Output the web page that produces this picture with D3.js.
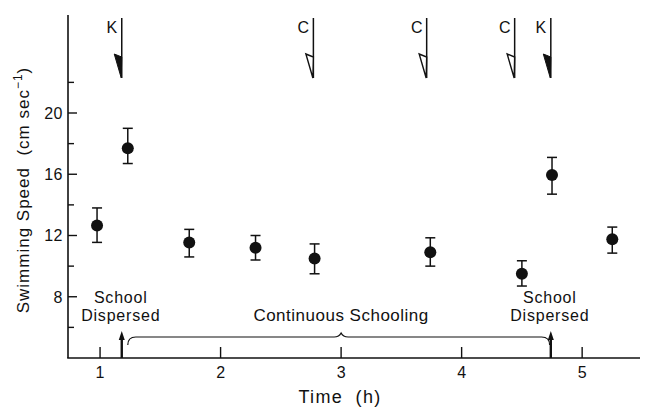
<!DOCTYPE html>
<html><head><meta charset="utf-8">
<script src="https://cdn.jsdelivr.net/npm/d3@7/dist/d3.min.js"></script>
<style>
html,body{margin:0;padding:0;background:#fff;}
text{font-family:"Liberation Sans",Arial,sans-serif;fill:#111;}
</style></head>
<body><svg id="c" width="647" height="407"></svg>
<script>
// ---- data ----
const times  = [0.975, 1.23, 1.74, 2.29, 2.78, 3.74, 4.50, 4.75, 5.25];
const speeds = [12.65, 17.7, 11.55, 11.2, 10.5, 10.9, 9.5, 15.95, 11.75];
const errHi  = [13.8, 19.0, 12.4, 12.0, 11.45, 11.85, 10.35, 17.1, 12.55];
const errLo  = [11.55, 16.7, 10.6, 10.4, 9.5, 10.0, 8.7, 14.7, 10.85];
const eventTimes  = [1.18, 2.77, 3.71, 4.44, 4.74];
const eventLabels = ["K", "C", "C", "C", "K"];
const dispersedTimes = [1.18, 4.74];
const xTicks = [1, 2, 3, 4, 5];
const yMajorTicks = [8, 12, 16, 20];
const yMinorTicks = [6, 10, 14, 18, 22];
const schoolingSpan = [1.23, 4.73];

(function () {
const svg = d3.select("#c");
const x = d3.scaleLinear().domain([0.734, 5.48]).range([68, 640]);
const y = d3.scaleLinear().domain([4, 26.4]).range([358, 15]);
const ink = "#111";

// axes lines
svg.append("line").attr("x1", 68).attr("x2", 68).attr("y1", y(26.4)).attr("y2", y(4))
  .attr("stroke", ink).attr("stroke-width", 1.6);
svg.append("line").attr("x1", 67.2).attr("x2", 640).attr("y1", y(4)).attr("y2", y(4))
  .attr("stroke", ink).attr("stroke-width", 1.6);

// y ticks
svg.selectAll(".ymaj").data(yMajorTicks).enter().append("line")
  .attr("x1", 68).attr("x2", 77).attr("y1", d => y(d)).attr("y2", d => y(d))
  .attr("stroke", ink).attr("stroke-width", 1.4);
svg.selectAll(".ymin").data(yMinorTicks).enter().append("line")
  .attr("x1", 68).attr("x2", 74).attr("y1", d => y(d)).attr("y2", d => y(d))
  .attr("stroke", ink).attr("stroke-width", 1.4);
svg.selectAll(".ylab").data(yMajorTicks).enter().append("text")
  .attr("x", 63).attr("y", d => y(d)).attr("dy", "0.36em")
  .attr("text-anchor", "end").attr("font-size", 16).attr("letter-spacing", 0.5).text(d => d);

// x ticks
svg.selectAll(".xt").data(xTicks).enter().append("line")
  .attr("x1", d => x(d)).attr("x2", d => x(d)).attr("y1", y(4)).attr("y2", y(4) - 11)
  .attr("stroke", ink).attr("stroke-width", 1.4);
svg.selectAll(".xlab").data(xTicks).enter().append("text")
  .attr("x", d => x(d)).attr("y", 378).attr("text-anchor", "middle")
  .attr("font-size", 16).text(d => d);

// axis titles
svg.append("text").attr("x", 340).attr("y", 403).attr("text-anchor", "middle")
  .attr("font-size", 18).attr("letter-spacing", 1.3).style("white-space", "pre").text("Time  (h)");
const yl = svg.append("text").attr("transform", "translate(29,190) rotate(-90)")
  .attr("text-anchor", "middle").attr("font-size", 17).attr("letter-spacing", 1)
  .style("white-space", "pre");
yl.append("tspan").text("Swimming Speed  (cm sec");
yl.append("tspan").attr("dy", -7).attr("font-size", 12).text("−1");
yl.append("tspan").attr("dy", 7).text(")");

// error bars
const pts = times.map((t, i) => ({t, v: speeds[i], hi: errHi[i], lo: errLo[i]}));
const eb = svg.selectAll(".eb").data(pts).enter().append("g");
eb.append("line").attr("x1", d => x(d.t)).attr("x2", d => x(d.t))
  .attr("y1", d => y(d.hi)).attr("y2", d => y(d.lo)).attr("stroke", ink).attr("stroke-width", 1.5);
eb.append("line").attr("x1", d => x(d.t) - 5).attr("x2", d => x(d.t) + 5)
  .attr("y1", d => y(d.hi)).attr("y2", d => y(d.hi)).attr("stroke", ink).attr("stroke-width", 1.5);
eb.append("line").attr("x1", d => x(d.t) - 5).attr("x2", d => x(d.t) + 5)
  .attr("y1", d => y(d.lo)).attr("y2", d => y(d.lo)).attr("stroke", ink).attr("stroke-width", 1.5);
eb.append("circle").attr("cx", d => x(d.t)).attr("cy", d => y(d.v)).attr("r", 6).attr("fill", ink);

// event arrows at top
const ev = eventTimes.map((t, i) => ({t, lab: eventLabels[i]}));
const aTop = 18, aBot = 78;
const eg = svg.selectAll(".ev").data(ev).enter().append("g");
eg.append("line").attr("x1", d => x(d.t)).attr("x2", d => x(d.t))
  .attr("y1", aTop).attr("y2", aBot).attr("stroke", ink).attr("stroke-width", 1.5);
eg.append("path")
  .attr("d", d => { const cx = x(d.t); return `M${cx - 7.5},${aBot - 24} L${cx},${aBot - 21} L${cx - 0.5},${aBot} Z`; })
  .attr("fill", d => d.lab === "K" ? ink : "#fff")
  .attr("stroke", ink).attr("stroke-width", d => d.lab === "K" ? 1 : 1.4)
  .attr("stroke-linejoin", "miter");
eg.append("text").attr("x", d => x(d.t) - 10).attr("y", 33).attr("text-anchor", "middle")
  .attr("font-size", 16).text(d => d.lab);

// dispersed arrows at bottom
const dg = svg.selectAll(".dg").data(dispersedTimes).enter().append("g");
dg.append("line").attr("x1", d => x(d)).attr("x2", d => x(d))
  .attr("y1", y(4)).attr("y2", y(4) - 20).attr("stroke", ink).attr("stroke-width", 2.4);
dg.append("path").attr("d", d => { const cx = x(d), t = y(4) - 27; return `M${cx},${t} L${cx + 3},${t + 9} L${cx - 3},${t + 9} Z`; })
  .attr("fill", ink);
dg.each(function(d) {
  const t = d3.select(this).append("text").attr("text-anchor", "middle")
    .attr("font-size", 16).attr("letter-spacing", 0.8);
  t.append("tspan").attr("x", x(d) - 1).attr("y", 302.5).text("School");
  t.append("tspan").attr("x", x(d) - 1).attr("y", 321).text("Dispersed");
});

// brace
const bl = x(schoolingSpan[0]), br = x(schoolingSpan[1]), bm = x(3);
const by = 337, bEnd = 345;
svg.append("path")
  .attr("d", `M${bl},${bEnd} Q${bl},${by} ${bl + 8},${by} L${bm - 7},${by} Q${bm - 2},${by} ${bm},${by - 4} Q${bm + 2},${by} ${bm + 7},${by} L${br - 8},${by} Q${br},${by} ${br},${bEnd}`)
  .attr("fill", "none").attr("stroke", ink).attr("stroke-width", 1.2);
svg.append("text").attr("x", bm).attr("y", 321).attr("text-anchor", "middle")
  .attr("font-size", 17).attr("letter-spacing", 0.5).text("Continuous Schooling");
})();
</script></body></html>
